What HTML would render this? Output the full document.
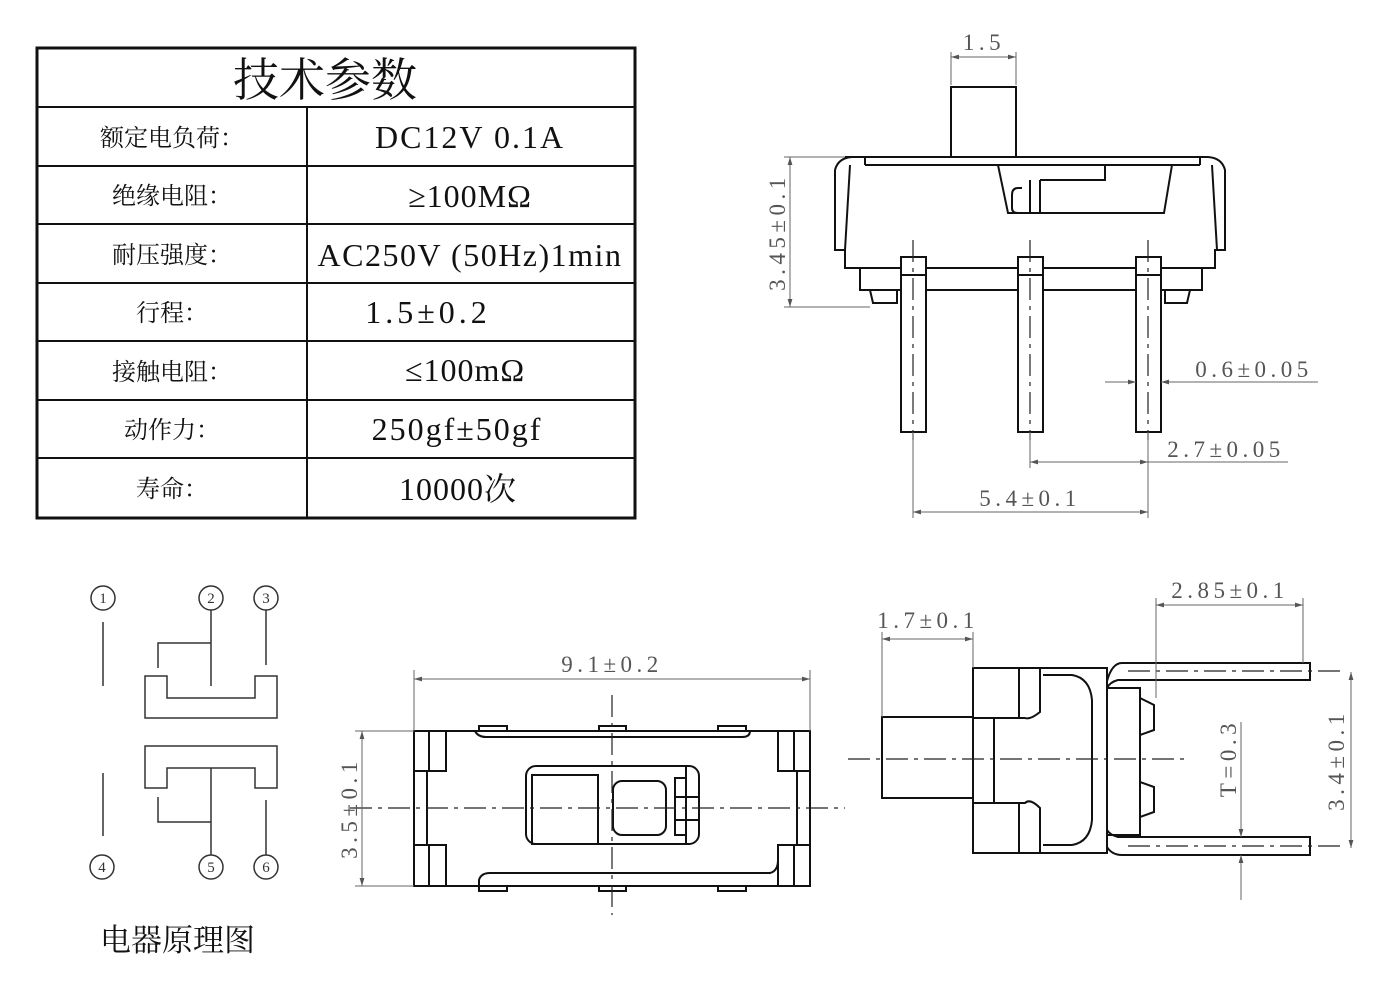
<!DOCTYPE html>
<html><head><meta charset="utf-8"><style>
html,body{margin:0;padding:0;background:#fff;}
svg{display:block;}
.t{font-family:"Liberation Serif","Noto Serif CJK SC",serif;fill:#111;}
.d{font-family:"Liberation Serif","Noto Serif CJK SC",serif;fill:#555;font-size:23px;letter-spacing:4.5px;}
.k{stroke:#111;stroke-width:2;fill:none;}
.g{stroke:#666;stroke-width:1;fill:none;}
.c{stroke:#222;stroke-width:1.2;fill:none;stroke-dasharray:22 6 4 6;}
</style></head><body>
<svg width="1400" height="1000" viewBox="0 0 1400 1000" xmlns="http://www.w3.org/2000/svg">
<defs>
<marker id="a" viewBox="0 0 10 10" refX="10" refY="5" markerWidth="12" markerHeight="8" orient="auto-start-reverse" markerUnits="userSpaceOnUse"><path d="M0,2 L10,5 L0,8 Z" fill="#555"/></marker>
</defs>

<!-- TABLE -->
<rect x="37" y="48" width="598" height="470" fill="none" stroke="#111" stroke-width="3"/>
<g stroke="#111" stroke-width="2">
<line x1="37" y1="107" x2="635" y2="107"/><line x1="37" y1="166" x2="635" y2="166"/>
<line x1="37" y1="224" x2="635" y2="224"/><line x1="37" y1="283" x2="635" y2="283"/>
<line x1="37" y1="341" x2="635" y2="341"/><line x1="37" y1="400" x2="635" y2="400"/>
<line x1="37" y1="458" x2="635" y2="458"/><line x1="307" y1="107" x2="307" y2="518"/>
</g>
<g class="t" text-anchor="middle">
<text x="325" y="96" font-size="46">技术参数</text>
<text x="172" y="146" font-size="24">额定电负荷：</text>
<text x="172" y="204" font-size="24">绝缘电阻：</text>
<text x="172" y="263" font-size="24">耐压强度：</text>
<text x="172" y="321" font-size="24">行程：</text>
<text x="172" y="380" font-size="24">接触电阻：</text>
<text x="172" y="438" font-size="24">动作力：</text>
<text x="172" y="497" font-size="24">寿命：</text>
<text x="470" y="148" font-size="32" letter-spacing="2">DC12V 0.1A</text>
<text x="470" y="207" font-size="32" letter-spacing="1">≥100MΩ</text>
<text x="470" y="266" font-size="32" letter-spacing="1.5">AC250V (50Hz)1min</text>
<text x="428" y="323" font-size="32" letter-spacing="4">1.5±0.2</text>
<text x="465" y="381" font-size="32" letter-spacing="1">≤100mΩ</text>
<text x="457" y="440" font-size="32" letter-spacing="2">250gf±50gf</text>
<text x="458" y="500" font-size="32" letter-spacing="1">10000次</text>
</g>

<!-- TOP RIGHT SIDE VIEW -->
<g class="k">
<rect x="951" y="87" width="65" height="70"/>
<path d="M845,157 H1208 Q1222,158 1225,170 V250 H1215 V268 H845 V250 H835 V170 Q838,158 852,157"/>
<line x1="865" y1="165" x2="1200" y2="165"/>
<line x1="865" y1="157" x2="865" y2="165"/><line x1="1200" y1="157" x2="1200" y2="165"/>
<line x1="850" y1="165" x2="845" y2="250"/><line x1="1212" y1="165" x2="1217" y2="250"/>
<path d="M998,165 L1008,213 H1164 L1172,165"/>
<path d="M1022,188 H1018 Q1012,188 1012,195 V208 Q1012,213 1018,213 H1042"/>
<line x1="1030" y1="180" x2="1030" y2="213"/><line x1="1040" y1="180" x2="1040" y2="213"/>
<path d="M1040,180 H1105 V165"/>
<path d="M860,268 V290 H1202 V268"/>
<path d="M870,290 L873,303 H897 V290"/><path d="M1165,290 V303 H1187 L1190,290"/>
<rect x="901" y="257" width="25" height="175" fill="#fff"/>
<rect x="1018" y="257" width="25" height="175" fill="#fff"/>
<rect x="1136" y="257" width="25" height="175" fill="#fff"/>
<line x1="901" y1="275" x2="926" y2="275"/><line x1="1018" y1="275" x2="1043" y2="275"/><line x1="1136" y1="275" x2="1161" y2="275"/>
</g>
<g class="c"><line x1="913" y1="240" x2="913" y2="440"/><line x1="1030" y1="240" x2="1030" y2="440"/><line x1="1148" y1="240" x2="1148" y2="440"/></g>
<g class="g">
<line x1="951" y1="52" x2="951" y2="85"/><line x1="1016" y1="52" x2="1016" y2="85"/>
<line x1="951" y1="57" x2="1016" y2="57" marker-start="url(#a)" marker-end="url(#a)"/>
<line x1="784" y1="157" x2="845" y2="157"/><line x1="784" y1="307" x2="870" y2="307"/>
<line x1="790" y1="157" x2="790" y2="307" marker-start="url(#a)" marker-end="url(#a)"/>
<line x1="1105" y1="382" x2="1136" y2="382" marker-end="url(#a)"/>
<line x1="1318" y1="382" x2="1161" y2="382" marker-end="url(#a)"/>
<line x1="913" y1="432" x2="913" y2="518"/><line x1="1030" y1="432" x2="1030" y2="468"/><line x1="1148" y1="432" x2="1148" y2="518"/>
<line x1="1030" y1="462" x2="1148" y2="462" marker-start="url(#a)" marker-end="url(#a)"/>
<line x1="1148" y1="462" x2="1288" y2="462"/>
<line x1="913" y1="512" x2="1148" y2="512" marker-start="url(#a)" marker-end="url(#a)"/>
</g>
<text class="d" x="984" y="50" text-anchor="middle">1.5</text>
<text class="d" transform="translate(785,232) rotate(-90)" text-anchor="middle">3.45±0.1</text>
<text class="d" x="1254" y="377" text-anchor="middle">0.6±0.05</text>
<text class="d" x="1226" y="457" text-anchor="middle">2.7±0.05</text>
<text class="d" x="1030" y="506" text-anchor="middle">5.4±0.1</text>

<!-- SCHEMATIC -->
<g stroke="#333" stroke-width="1.5" fill="none">
<circle cx="103" cy="598" r="12"/><circle cx="211" cy="598" r="12"/><circle cx="266" cy="598" r="12"/>
<circle cx="102" cy="867" r="12"/><circle cx="211" cy="867" r="12"/><circle cx="266" cy="867" r="12"/>
<line x1="103" y1="622" x2="103" y2="686"/><line x1="103" y1="773" x2="103" y2="836"/>
<line x1="211" y1="610" x2="211" y2="686"/><path d="M158,668 V643 H211"/>
<line x1="266" y1="610" x2="266" y2="665"/>
<path d="M145,676 H167 V698 H255 V676 H277 V718 H145 Z"/>
<path d="M145,746 H277 V788 H255 V768 H167 V788 H145 Z"/>
<line x1="211" y1="768" x2="211" y2="855"/><path d="M158,797 V822 H211"/>
<line x1="266" y1="800" x2="266" y2="855"/>
</g>
<g font-family="Liberation Serif,serif" font-size="15" fill="#333" text-anchor="middle">
<text x="103" y="603">1</text><text x="211" y="603">2</text><text x="266" y="603">3</text>
<text x="102" y="872">4</text><text x="211" y="872">5</text><text x="266" y="872">6</text>
</g>
<text class="t" x="100" y="951" font-size="31">电器原理图</text>

<!-- BOTTOM MIDDLE TOP VIEW -->
<g class="k">
<rect x="414" y="731" width="396" height="155"/>
<rect x="414" y="731" width="32" height="40"/><rect x="414" y="845" width="32" height="41"/>
<rect x="778" y="731" width="32" height="40"/><rect x="778" y="845" width="32" height="41"/>
<line x1="429" y1="731" x2="429" y2="771"/><line x1="429" y1="845" x2="429" y2="886"/>
<line x1="794" y1="731" x2="794" y2="771"/><line x1="794" y1="845" x2="794" y2="886"/>
<line x1="427" y1="771" x2="427" y2="845"/><line x1="797" y1="771" x2="797" y2="845"/>
<path d="M475,731 Q478,737 486,737 H742 Q750,737 750,731"/>
<path d="M479,731 V726 H507 V731 M599,731 V726 H626 V731 M718,731 V726 H746 V731"/>
<path d="M479,886 V880 Q481,873 490,873 H770 Q778,871 778,860"/>
<path d="M479,886 V891 H507 V886 M599,886 V891 H626 V886 M718,886 V891 H746 V886"/>
<rect x="526" y="766" width="173" height="78" rx="10"/>
<rect x="532" y="775" width="66" height="69"/>
<rect x="613" y="781" width="53" height="54" rx="9"/>
<path d="M675,778 H686 V835 H675 Z M675,797 H698 M675,820 H698 M686,766 V844"/>
</g>
<g class="c"><line x1="350" y1="808" x2="845" y2="808"/><line x1="612" y1="695" x2="612" y2="915"/></g>
<g class="g">
<line x1="414" y1="670" x2="414" y2="731"/><line x1="810" y1="670" x2="810" y2="731"/>
<line x1="414" y1="679" x2="810" y2="679" marker-start="url(#a)" marker-end="url(#a)"/>
<line x1="355" y1="731" x2="414" y2="731"/><line x1="355" y1="886" x2="414" y2="886"/>
<line x1="362" y1="731" x2="362" y2="886" marker-start="url(#a)" marker-end="url(#a)"/>
</g>
<text class="d" x="612" y="672" text-anchor="middle">9.1±0.2</text>
<text class="d" transform="translate(357,808) rotate(-90)" text-anchor="middle">3.5±0.1</text>

<!-- BOTTOM RIGHT SIDE VIEW -->
<g class="k">
<rect x="882" y="717" width="91" height="81"/>
<rect x="973" y="668" width="134" height="185"/>
<rect x="973" y="668" width="46" height="50"/><rect x="973" y="803" width="46" height="50"/>
<line x1="1019" y1="668" x2="1019" y2="718"/><line x1="994" y1="718" x2="994" y2="803"/>
<path d="M1040,668 V712 Q1030,720 1025,718 H973 M1040,853 V808 Q1030,798 1025,803 H973"/>
<path d="M1043,675 H1072 Q1090,678 1092,700 V820 Q1090,842 1072,845 H1043"/>
<path d="M1107,688 H1140 V835 H1107"/>
<path d="M1140,698 L1154,705 V730 L1140,735 M1140,782 L1154,787 V812 L1140,817"/>
<path d="M1107,681 Q1112,663 1122,663 H1310 V680 H1118 Q1110,682 1107,688"/>
<path d="M1107,847 Q1112,855 1122,855 H1310 V837 H1118 Q1110,835 1107,830"/>
</g>
<g class="c"><line x1="848" y1="759" x2="1190" y2="759"/><line x1="1128" y1="671" x2="1340" y2="671"/><line x1="1128" y1="846" x2="1340" y2="846"/></g>
<g class="g">
<line x1="882" y1="632" x2="882" y2="717"/><line x1="973" y1="632" x2="973" y2="668"/>
<line x1="882" y1="639" x2="973" y2="639" marker-start="url(#a)" marker-end="url(#a)"/>
<line x1="1156" y1="598" x2="1156" y2="698"/><line x1="1303" y1="598" x2="1303" y2="663"/>
<line x1="1156" y1="605" x2="1303" y2="605" marker-start="url(#a)" marker-end="url(#a)"/>
<line x1="1351" y1="672" x2="1351" y2="848" marker-start="url(#a)" marker-end="url(#a)"/>
<line x1="1241" y1="722" x2="1241" y2="837" marker-end="url(#a)"/>
<line x1="1241" y1="900" x2="1241" y2="855" marker-end="url(#a)"/>
</g>
<text class="d" x="928" y="628" text-anchor="middle" font-size="26">1.7±0.1</text>
<text class="d" x="1230" y="598" text-anchor="middle" font-size="26">2.85±0.1</text>
<text class="d" transform="translate(1344,760) rotate(-90)" text-anchor="middle" font-size="26">3.4±0.1</text>
<text class="d" transform="translate(1236,758) rotate(-90)" text-anchor="middle" font-size="26">T=0.3</text>
</svg>
</body></html>
